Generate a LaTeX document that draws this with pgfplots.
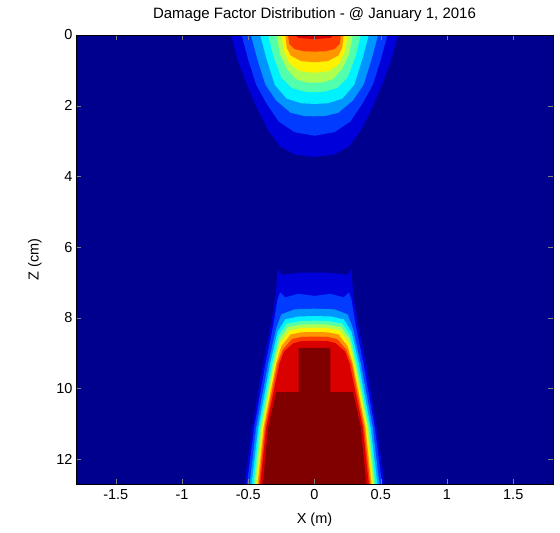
\documentclass[border=0pt]{standalone}
\usepackage{pgfplots}
\pgfplotsset{compat=1.18}
\usepackage{fontspec}
\setmainfont{Liberation Sans}
% jet levels
\definecolor{c0}{rgb}{0,0,0.56}
\definecolor{c1}{rgb}{0,0,0.86}
\definecolor{c2}{rgb}{0,0.23,1}
\definecolor{c3}{rgb}{0,0.59,1}
\definecolor{c4}{rgb}{0,0.95,1}
\definecolor{c5}{rgb}{0.32,1,0.68}
\definecolor{c6}{rgb}{0.68,1,0.32}
\definecolor{c7}{rgb}{1,0.95,0}
\definecolor{c8}{rgb}{1,0.59,0}
\definecolor{c9}{rgb}{1,0.23,0}
\definecolor{c10}{rgb}{0.86,0,0}
\definecolor{c11}{rgb}{0.5,0,0}
\begin{document}
\begin{tikzpicture}[font=\fontsize{14.5}{16}\selectfont]
\begin{axis}[
    scale only axis,
    width=477pt, height=449pt,
    xmin=-1.8, xmax=1.8,
    ymin=0, ymax=12.7,
    y dir=reverse,
    xtick={-1.5,-1,-0.5,0,0.5,1,1.5},
    ytick={0,2,4,6,8,10,12},
    /pgf/number format/assume math mode=true,
    tick align=inside,
    major tick length=5pt,
    axis on top,
    title={Damage Factor Distribution - @ January 1, 2016},
    title style={at={(axis description cs:0.5,1.033)}, anchor=center, font=\fontsize{15}{17}\selectfont},
    xlabel={X (m)},
    ylabel={Z (cm)},
    xlabel style={at={(axis description cs:0.5,-0.080)}, anchor=center},
    ylabel style={at={(axis description cs:-0.086,0.5)}, anchor=center},
    xticklabel style={yshift=-2pt},
    every axis plot/.append style={draw=none},
]
% background level
\addplot[fill=c0] coordinates {(-1.8,0) (1.8,0) (1.8,12.7) (-1.8,12.7)} --cycle;

% ---- upper blob ----
\addplot[fill=c1] coordinates {(-0.63,0) (-0.58,0.7) (-0.51,1.41) (-0.43,2.1) (-0.35,2.7) (-0.26,3.15) (-0.15,3.38) (0,3.45) (0.15,3.38) (0.26,3.15) (0.35,2.7) (0.43,2.1) (0.51,1.41) (0.58,0.7) (0.63,0)} --cycle;
\addplot[fill=c2] coordinates {(-0.55,0) (-0.5,0.7) (-0.44,1.41) (-0.36,1.95) (-0.27,2.45) (-0.15,2.75) (0,2.85) (0.15,2.75) (0.27,2.45) (0.36,1.95) (0.44,1.41) (0.5,0.7) (0.55,0)} --cycle;
\addplot[fill=c3] coordinates {(-0.48,0) (-0.43,0.7) (-0.37,1.41) (-0.29,1.85) (-0.18,2.2) (-0.08,2.29) (0,2.3) (0.08,2.29) (0.18,2.2) (0.29,1.85) (0.37,1.41) (0.43,0.7) (0.48,0)} --cycle;
\addplot[fill=c4] coordinates {(-0.41,0) (-0.36,0.7) (-0.3,1.41) (-0.21,1.8) (-0.1,1.93) (0,1.95) (0.1,1.93) (0.21,1.8) (0.3,1.41) (0.36,0.7) (0.41,0)} --cycle;
\addplot[fill=c5] coordinates {(-0.35,0) (-0.31,0.6) (-0.25,1.2) (-0.17,1.5) (-0.08,1.6) (0,1.62) (0.08,1.6) (0.17,1.5) (0.25,1.2) (0.31,0.6) (0.35,0)} --cycle;
\addplot[fill=c6] coordinates {(-0.29,0) (-0.26,0.55) (-0.21,0.95) (-0.14,1.25) (-0.06,1.34) (0,1.35) (0.06,1.34) (0.14,1.25) (0.21,0.95) (0.26,0.55) (0.29,0)} --cycle;
\addplot[fill=c7] coordinates {(-0.25,0) (-0.23,0.45) (-0.19,0.8) (-0.11,1.02) (0,1.07) (0.11,1.02) (0.19,0.8) (0.23,0.45) (0.25,0)} --cycle;
\addplot[fill=c8] coordinates {(-0.22,0) (-0.21,0.35) (-0.18,0.58) (-0.1,0.74) (0,0.77) (0.1,0.74) (0.18,0.58) (0.21,0.35) (0.22,0)} --cycle;
\addplot[fill=c9] coordinates {(-0.2,0) (-0.19,0.25) (-0.15,0.4) (-0.08,0.46) (0,0.47) (0.08,0.46) (0.15,0.4) (0.19,0.25) (0.2,0)} --cycle;
\addplot[fill=c10] coordinates {(-0.15,0) (-0.12,0.08) (0,0.12) (0.12,0.08) (0.15,0)} --cycle;

% ---- lower blob ----
\addplot[fill=c1] coordinates {(-0.53,12.7) (-0.47,11.1) (-0.39,9.3) (-0.33,8.2) (-0.29,7.3) (-0.28,6.62) (-0.25,6.78) (-0.1,6.72) (0,6.72) (0.1,6.72) (0.25,6.78) (0.28,6.62) (0.29,7.3) (0.33,8.2) (0.39,9.3) (0.47,11.1) (0.53,12.7)} --cycle;
\addplot[fill=c2] coordinates {(-0.51,12.7) (-0.455,11.1) (-0.37,9.3) (-0.31,8.2) (-0.28,7.5) (-0.26,7.28) (-0.22,7.42) (-0.12,7.32) (0,7.38) (0.12,7.32) (0.22,7.42) (0.26,7.28) (0.28,7.5) (0.31,8.2) (0.37,9.3) (0.455,11.1) (0.51,12.7)} --cycle;
\addplot[fill=c3] coordinates {(-0.49,12.7) (-0.44,11.1) (-0.35,9.3) (-0.29,8.3) (-0.25,7.9) (-0.15,7.76) (0,7.74) (0.15,7.76) (0.25,7.9) (0.29,8.3) (0.35,9.3) (0.44,11.1) (0.49,12.7)} --cycle;
\addplot[fill=c4] coordinates {(-0.475,12.7) (-0.425,11.1) (-0.335,9.3) (-0.28,8.4) (-0.22,8.04) (-0.12,7.96) (0,7.95) (0.12,7.96) (0.22,8.04) (0.28,8.4) (0.335,9.3) (0.425,11.1) (0.475,12.7)} --cycle;
\addplot[fill=c5] coordinates {(-0.46,12.7) (-0.415,11.1) (-0.32,9.3) (-0.27,8.5) (-0.21,8.16) (-0.1,8.09) (0,8.08) (0.1,8.09) (0.21,8.16) (0.27,8.5) (0.32,9.3) (0.415,11.1) (0.46,12.7)} --cycle;
\addplot[fill=c6] coordinates {(-0.45,12.7) (-0.405,11.1) (-0.31,9.3) (-0.265,8.6) (-0.2,8.26) (-0.1,8.19) (0,8.18) (0.1,8.19) (0.2,8.26) (0.265,8.6) (0.31,9.3) (0.405,11.1) (0.45,12.7)} --cycle;
\addplot[fill=c7] coordinates {(-0.44,12.7) (-0.395,11.1) (-0.3,9.3) (-0.26,8.7) (-0.19,8.36) (-0.1,8.29) (0,8.28) (0.1,8.29) (0.19,8.36) (0.26,8.7) (0.3,9.3) (0.395,11.1) (0.44,12.7)} --cycle;
\addplot[fill=c8] coordinates {(-0.43,12.7) (-0.385,11.1) (-0.29,9.3) (-0.25,8.8) (-0.18,8.47) (-0.1,8.41) (0,8.4) (0.1,8.41) (0.18,8.47) (0.25,8.8) (0.29,9.3) (0.385,11.1) (0.43,12.7)} --cycle;
\addplot[fill=c9] coordinates {(-0.42,12.7) (-0.375,11.1) (-0.28,9.3) (-0.24,8.9) (-0.17,8.6) (-0.1,8.54) (0,8.53) (0.1,8.54) (0.17,8.6) (0.24,8.9) (0.28,9.3) (0.375,11.1) (0.42,12.7)} --cycle;
\addplot[fill=c10] coordinates {(-0.41,12.7) (-0.365,11.1) (-0.265,9.3) (-0.23,8.95) (-0.16,8.72) (-0.1,8.66) (0,8.65) (0.1,8.66) (0.16,8.72) (0.23,8.95) (0.265,9.3) (0.365,11.1) (0.41,12.7)} --cycle;
\addplot[fill=c11] coordinates {(-0.39,12.7) (-0.35,11.1) (-0.29,10.1) (-0.12,10.1) (-0.12,8.85) (0.12,8.85) (0.12,10.1) (0.29,10.1) (0.35,11.1) (0.39,12.7)} --cycle;
\end{axis}
% fix the page to the reference margins round the axis box
\pgfresetboundingbox
\path (current axis.south west) ++(-76pt,-49pt) rectangle ([xshift=7pt,yshift=35pt]current axis.north east);
\end{tikzpicture}
\end{document}
